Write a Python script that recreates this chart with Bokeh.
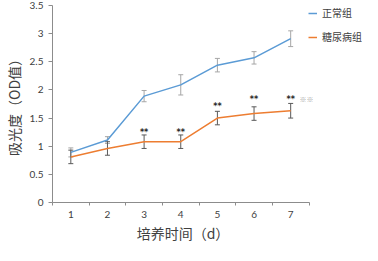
from bokeh.plotting import figure
from bokeh.models import Range1d, FixedTicker, Whisker, ColumnDataSource, Legend, LegendItem, TeeHead
from bokeh.core.properties import value
from bokeh.embed import file_html
from bokeh.resources import INLINE

# ---- data ----
days = [1, 2, 3, 4, 5, 6, 7]
day_labels = ["1", "2", "3", "4", "5", "6", "7"]
normal = [0.89, 1.11, 1.89, 2.09, 2.44, 2.57, 2.91]
normal_err = [0.08, 0.06, 0.10, 0.18, 0.12, 0.11, 0.14]
diabetic = [0.81, 0.96, 1.08, 1.08, 1.50, 1.58, 1.63]
diabetic_err = [0.12, 0.12, 0.12, 0.12, 0.12, 0.12, 0.13]
sig_days = [3, 4, 5, 6, 7]
sig_y = [1.25, 1.25, 1.71, 1.83, 1.83]
sig_text = ["**", "**", "**", "**", "**"]
note_x = [7.24]
note_y = [1.84]
note_text = ["※※"]
y_ticks = [0, 0.5, 1, 1.5, 2, 2.5, 3, 3.5]
y_tick_labels = ["0", "0.5", "1", "1.5", "2", "2.5", "3", "3.5"]
series_names = ["正常组", "糖尿病组"]
x_title = "培养时间（d）"
y_title = "吸光度（OD值）"

BLUE = "#5B9BD5"
ORANGE = "#ED7D31"
AXIS = "#8c8c8c"
TXT = "#595959"
CJK = "Noto Sans CJK SC"
NUM = "Lato"

p = figure(width=362, height=245, output_backend="svg", toolbar_location=None,
           x_range=Range1d(0.5, 8.96), y_range=Range1d(0, 3.5),
           min_border_left=44, min_border_right=0, min_border_top=5, min_border_bottom=0)
p.outline_line_color = None
p.xgrid.grid_line_color = None
p.ygrid.grid_line_color = None

# x axis (line limited to the 7 categories)
xa = p.xaxis[0]
xa.bounds = (0.5, 7.5)
xa.ticker = FixedTicker(ticks=days, minor_ticks=[d - 0.5 for d in days] + [days[-1] + 0.5])
xa.major_label_overrides = {d: lab for d, lab in zip(days, day_labels)}
xa.major_tick_line_color = None
xa.major_tick_out = 0
xa.major_tick_in = 0
xa.minor_tick_line_color = AXIS
xa.minor_tick_out = 3
xa.minor_tick_in = 0
xa.axis_line_color = AXIS
xa.major_label_text_font = NUM
xa.major_label_text_font_size = "10px"
xa.major_label_text_color = "#404040"
xa.major_label_standoff = 5
# trailing ideographic spaces keep the title centred under the 7 days, not the whole frame
xa.axis_label = x_title + "\u3000" * 4
xa.axis_label_text_font = CJK
xa.axis_label_text_font_size = "14px"
xa.axis_label_text_font_style = "normal"
xa.axis_label_text_color = "#404040"
xa.axis_label_standoff = 2

# y axis
ya = p.yaxis[0]
ya.ticker = FixedTicker(ticks=y_ticks)
ya.major_label_overrides = {t: lab for t, lab in zip(y_ticks, y_tick_labels)}
ya.major_tick_line_color = AXIS
ya.major_tick_out = 4
ya.major_tick_in = 0
ya.minor_tick_line_color = None
ya.axis_line_color = AXIS
ya.major_label_text_font = NUM
ya.major_label_text_font_size = "10px"
ya.major_label_text_color = "#404040"
ya.major_label_standoff = 5
ya.axis_label = y_title
ya.axis_label_text_font = CJK
ya.axis_label_text_font_size = "14px"
ya.axis_label_text_font_style = "normal"
ya.axis_label_text_color = "#404040"
ya.axis_label_standoff = 3

# error bars
src_n = ColumnDataSource(dict(x=days, upper=[v + e for v, e in zip(normal, normal_err)],
                              lower=[v - e for v, e in zip(normal, normal_err)]))
src_d = ColumnDataSource(dict(x=days, upper=[v + e for v, e in zip(diabetic, diabetic_err)],
                              lower=[v - e for v, e in zip(diabetic, diabetic_err)]))
for src, col in [(src_n, "#a6a6a6"), (src_d, "#595959")]:
    w = Whisker(source=src, base="x", upper="upper", lower="lower", line_color=col, line_width=1,
                upper_head=TeeHead(size=5, line_color=col, line_width=1),
                lower_head=TeeHead(size=5, line_color=col, line_width=1))
    p.add_layout(w)

r1 = p.line(days, normal, line_color=BLUE, line_width=1.5)
r2 = p.line(days, diabetic, line_color=ORANGE, line_width=1.5)

p.text(x=sig_days, y=sig_y, text=sig_text, text_align="center", text_baseline="middle",
       text_font=value("DejaVu Sans"), text_font_size="8px", text_font_style="bold", text_color="#262626")
p.text(x=note_x, y=note_y, text=note_text, text_align="left", text_baseline="middle",
       text_font=value(CJK), text_font_size="7px", text_color="#a6a6a6")

legend = Legend(items=[LegendItem(label=series_names[0], renderers=[r1]),
                       LegendItem(label=series_names[1], renderers=[r2])],
                location="top_right", orientation="vertical",
                glyph_width=9, glyph_height=12, label_height=12, spacing=9,
                label_standoff=5, padding=0, margin=0,
                border_line_color=None, background_fill_alpha=0,
                label_text_font=CJK, label_text_font_size="10px", label_text_color="#404040")
p.add_layout(legend)

open("out.html", "w").write(file_html(p, INLINE))
